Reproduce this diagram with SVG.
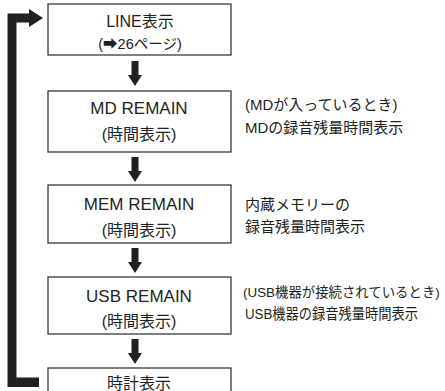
<svg xmlns="http://www.w3.org/2000/svg" width="445" height="391" viewBox="0 0 445 391">
<style>
.box{fill:#fff;stroke:#3a3a3a;stroke-width:1.3}
.t{font-family:"Liberation Sans","Noto Sans CJK JP",sans-serif;fill:#231f20;text-anchor:middle}
.n{font-size:17px}
.j{font-size:16px}
.r{font-family:"Liberation Sans","Noto Sans CJK JP",sans-serif;fill:#231f20;font-size:15px}
.s{font-size:13.4px}
.ar{fill:#231f20}
</style>
<defs>
<path id="dn" d="M-3.5,0 H3.5 V14 H7 L0,25 L-7,14 H-3.5 Z"/>
</defs>
<rect width="445" height="391" fill="#fff"/>
<g id="connectors">
<path class="ar" d="M7.5,387 V13.5 H29 V9 L43,18 L29,27 V22.5 H16.5 V377.5 H39 V387 Z"/>
<use href="#dn" x="135" y="61" class="ar"/>
<use href="#dn" x="135" y="157" class="ar"/>
<use href="#dn" x="135" y="248" class="ar"/>
<use href="#dn" x="135" y="339" class="ar"/>
</g>
<g id="line">
<rect class="box" x="48" y="4" width="183" height="51"/>
<text class="t j" x="140" y="27">LINE表示</text>
<text class="t" x="140" y="49" font-size="14.5">(➡26ページ)</text>
</g>
<g id="md">
<rect class="box" x="48" y="91" width="183" height="61"/>
<text class="t n" x="139" y="114">MD REMAIN</text>
<text class="t j" x="139" y="140">(時間表示)</text>
<text class="r" x="245" y="110">(MDが入っているとき)</text>
<text class="r" x="245" y="133">MDの録音残量時間表示</text>
</g>
<g id="mem">
<rect class="box" x="48" y="185" width="183" height="58"/>
<text class="t n" x="139" y="210">MEM REMAIN</text>
<text class="t j" x="139" y="236">(時間表示)</text>
<text class="r" x="245" y="210">内蔵メモリーの</text>
<text class="r" x="245" y="232">録音残量時間表示</text>
</g>
<g id="usb">
<rect class="box" x="48" y="277" width="183" height="57"/>
<text class="t n" x="139" y="302">USB REMAIN</text>
<text class="t j" x="139" y="327">(時間表示)</text>
<text class="r s" x="243" y="297">(USB機器が接続されているとき)</text>
<text class="r" x="245" y="319" textLength="173" lengthAdjust="spacingAndGlyphs">USB機器の録音残量時間表示</text>
</g>
<g id="clock">
<rect class="box" x="48" y="368" width="183" height="30"/>
<text class="t j" x="139" y="389">時計表示</text>
</g>
</svg>
